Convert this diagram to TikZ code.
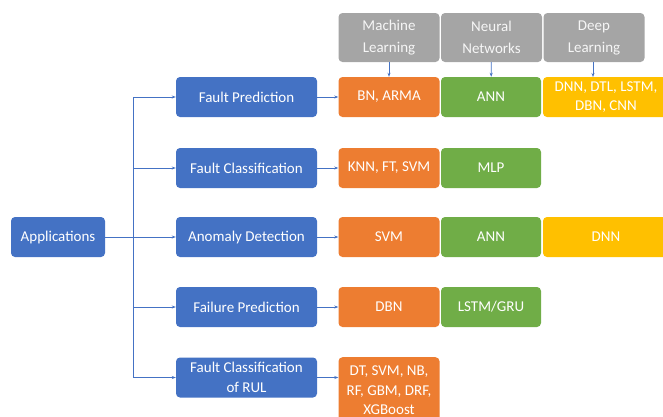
\documentclass[tikz,border=0pt]{standalone}
\usepackage{fontspec}
\setmainfont{Carlito}
\usetikzlibrary{arrows.meta}
\definecolor{cblue}{HTML}{4472C4}
\definecolor{corange}{HTML}{ED7D31}
\definecolor{cgreen}{HTML}{70AD47}
\definecolor{cyellow}{HTML}{FFC000}
\definecolor{cgray}{HTML}{A5A5A5}
\begin{document}
\begin{tikzpicture}[x=1pt,y=-1pt,
  box/.style={rounded corners=4pt, text=white, align=center, inner sep=1pt,
    font=\fontsize{15}{19.5}\selectfont, minimum height=40pt},
  bluebox/.style={box, fill=cblue, minimum width=141pt},
  orbox/.style={box, fill=corange, minimum width=101pt},
  grbox/.style={box, fill=cgreen, minimum width=100pt},
  yebox/.style={box, fill=cyellow, minimum width=126pt},
  grybox/.style={box, fill=cgray, text=white!93!gray, minimum width=101pt, minimum height=49pt,
    font=\fontsize{15}{22}\selectfont},
  conn/.style={draw=cblue, line width=0.7pt, -{Stealth[length=4pt,width=3pt]}},
  trunk/.style={draw=cblue, line width=0.7pt}]
\useasboundingbox (0,0) rectangle (663,416);
\clip (0,0) rectangle (663,416);
% category headers
\node[grybox] (ml) at (389,37.5) {Machine\\Learning};
\node[grybox] (nn) at (491.5,37.5) {Neural\\Networks};
\node[grybox] (dl) at (594,37.5) {Deep\\Learning};
% root
\node[box, fill=cblue, minimum width=94pt] (app) at (58,237) {Applications};
% applications
\node[bluebox] (fp) at (246.5,97) {Fault Prediction};
\node[bluebox] (fc) at (246.5,168) {Fault Classification};
\node[bluebox] (ad) at (246.5,237) {Anomaly Detection};
\node[bluebox] (fa) at (246.5,307) {Failure Prediction};
\node[bluebox] (ru) at (246.5,377.5) {Fault Classification\\of RUL};
% methods row 1
\node[orbox] (o1) at (389,97) {BN, ARMA};
\node[grbox] (g1) at (491,97) {ANN};
\node[yebox] (y1) at (606,97) {DNN, DTL, LSTM,\\DBN, CNN};
% row 2
\node[orbox] (o2) at (389,168) {KNN, FT, SVM};
\node[grbox] (g2) at (491,168) {MLP};
% row 3
\node[orbox] (o3) at (389,237) {SVM};
\node[grbox] (g3) at (491,237) {ANN};
\node[yebox] (y3) at (606,237) {DNN};
% row 4
\node[orbox] (o4) at (389,307) {DBN};
\node[grbox] (g4) at (491,307) {LSTM/GRU};
% row 5
\node[orbox, minimum height=66pt, anchor=north] (o5) at (389,357) {DT, SVM, NB,\\RF, GBM, DRF,\\XGBoost};
% trunk
\coordinate (t1) at (133,97);
\coordinate (t2) at (133,168);
\coordinate (t3) at (133,237);
\coordinate (t4) at (133,307);
\coordinate (t5) at (133,377.5);
\draw[trunk] (t1) -- (t5);
\draw[conn] (app) -- (ad);
\draw[conn] (t1) -- (fp);
\draw[conn] (t2) -- (fc);
\draw[conn] (t4) -- (fa);
\draw[conn] (t5) -- (ru);
% app -> methods
\draw[conn] (fp) -- (o1);
\draw[conn] (fc) -- (o2);
\draw[conn] (ad) -- (o3);
\draw[conn] (fa) -- (o4);
\draw[conn] (ru.east) -- (ru.east -| o5.west);
% header arrows
\draw[conn] (ml) -- (o1);
\draw[conn] (nn) -- (g1);
\draw[conn] (dl.south -| 593,0) -- (593,77);
\end{tikzpicture}
\end{document}
